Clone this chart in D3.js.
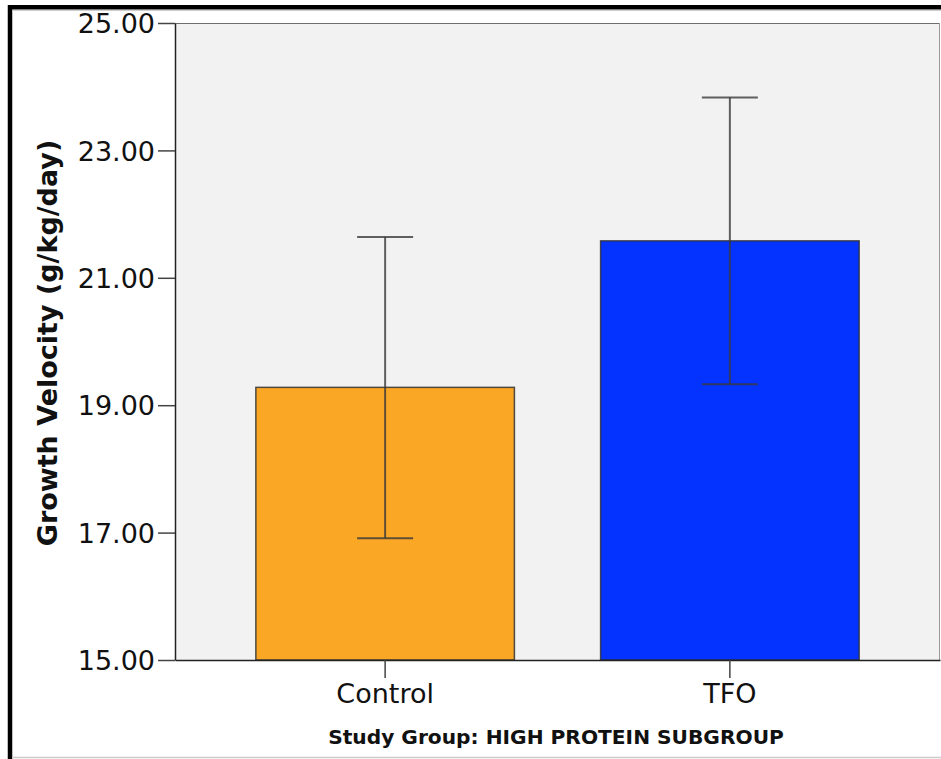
<!DOCTYPE html>
<html><head><meta charset="utf-8">
<script src="https://cdn.jsdelivr.net/npm/d3@7"></script>
<style>html,body{margin:0;padding:0;background:#fff;}svg{display:block;}</style>
</head><body>
<script>
const categories = ["Control", "TFO"];
const means = [19.28, 21.58];
const upper = [21.64, 23.83];
const lower = [16.91, 19.33];
const colors = ["#FAA726", "#0433FF"];
const yTicks = [15, 17, 19, 21, 23, 25];
const yTitle = "Growth Velocity (g/kg/day)";
const xTitle = "Study Group: HIGH PROTEIN SUBGROUP";

const W = 941, H = 759;
const L = 175, R = 940, T = 23, B = 660;
const svg = d3.select("body").append("svg").attr("width", W).attr("height", H);

// outer frame
svg.append("rect").attr("x", 0).attr("y", 0).attr("width", W).attr("height", H).attr("fill", "#fff");
svg.append("line").attr("x1", 8).attr("x2", W).attr("y1", 7.2).attr("y2", 7.2).attr("stroke", "#000").attr("stroke-width", 4.5);
svg.append("line").attr("x1", 10).attr("x2", 10).attr("y1", 5).attr("y2", H).attr("stroke", "#000").attr("stroke-width", 4.5);
svg.append("line").attr("x1", 12).attr("x2", W).attr("y1", 10.5).attr("y2", 10.5).attr("stroke", "#ccc").attr("stroke-width", 1);
svg.append("line").attr("x1", 12).attr("x2", W).attr("y1", 757.5).attr("y2", 757.5).attr("stroke", "#ccc").attr("stroke-width", 1.5);

const y = d3.scaleLinear().domain([15, 25]).range([B, T]);
const x = d3.scaleBand().domain(categories).range([L, R]).paddingInner(0.25).paddingOuter(0.2345);
const bw = x.bandwidth();

// plot background
svg.append("rect").attr("x", L).attr("y", T).attr("width", R - L).attr("height", B - T)
  .attr("fill", "#f2f2f2").attr("stroke", "none");
svg.append("line").attr("x1", L).attr("x2", R).attr("y1", T + 0.5).attr("y2", T + 0.5).attr("stroke", "#6e6e6e").attr("stroke-width", 1);
svg.append("line").attr("x1", R - 0.5).attr("x2", R - 0.5).attr("y1", T).attr("y2", B).attr("stroke", "#9a9a9a").attr("stroke-width", 1);

// bars
const cx = c => x(c) + x.bandwidth() / 2;
svg.selectAll("rect.bar").data(categories).enter().append("rect").attr("class", "bar")
  .attr("x", c => cx(c) - bw / 2).attr("width", bw)
  .attr("y", (c, i) => y(means[i])).attr("height", (c, i) => y(15) - y(means[i]))
  .attr("fill", (c, i) => colors[i]).attr("stroke", "#333").attr("stroke-opacity", 0.85).attr("stroke-width", 1.5);

// error bars
const eb = svg.append("g").attr("stroke", "#3a3a3a").attr("stroke-opacity", 0.8).attr("stroke-width", 2);
categories.forEach((c, i) => {
  eb.append("line").attr("x1", cx(c)).attr("x2", cx(c)).attr("y1", y(upper[i])).attr("y2", y(lower[i]));
  eb.append("line").attr("x1", cx(c) - 28).attr("x2", cx(c) + 28).attr("y1", y(upper[i])).attr("y2", y(upper[i]));
  eb.append("line").attr("x1", cx(c) - 28).attr("x2", cx(c) + 28).attr("y1", y(lower[i])).attr("y2", y(lower[i]));
});

// axes
const yAxis = svg.append("g").attr("transform", `translate(${L},0)`)
  .call(d3.axisLeft(y).tickValues(yTicks).tickFormat(d3.format(".2f")).tickSize(17).tickSizeOuter(0).tickPadding(3));
const xAxis = svg.append("g").attr("transform", `translate(0,${B})`)
  .call(d3.axisBottom(x).tickSize(18).tickSizeOuter(0).tickPadding(3));
[yAxis, xAxis].forEach(a => {
  a.select(".domain").attr("stroke", "#222").attr("stroke-width", 1.5);
  a.selectAll(".tick line").attr("stroke", "#444").attr("stroke-width", 1.5);
  a.selectAll("text").attr("font-family", "DejaVu Sans").attr("font-size", 27).attr("fill", "#111");
});
yAxis.selectAll("text").attr("dy", "0.36em");
xAxis.selectAll("text").attr("dy", "0.8em");

// titles
svg.append("text").attr("transform", "translate(57,343) rotate(-90)").attr("text-anchor", "middle")
  .attr("font-family", "DejaVu Sans").attr("font-weight", "bold").attr("font-size", 27).attr("fill", "#111")
  .text(yTitle);
svg.append("text").attr("x", 556).attr("y", 744).attr("text-anchor", "middle")
  .attr("font-family", "DejaVu Sans").attr("font-weight", "bold").attr("font-size", 20.2).attr("fill", "#111")
  .text(xTitle);
</script>
</body></html>
